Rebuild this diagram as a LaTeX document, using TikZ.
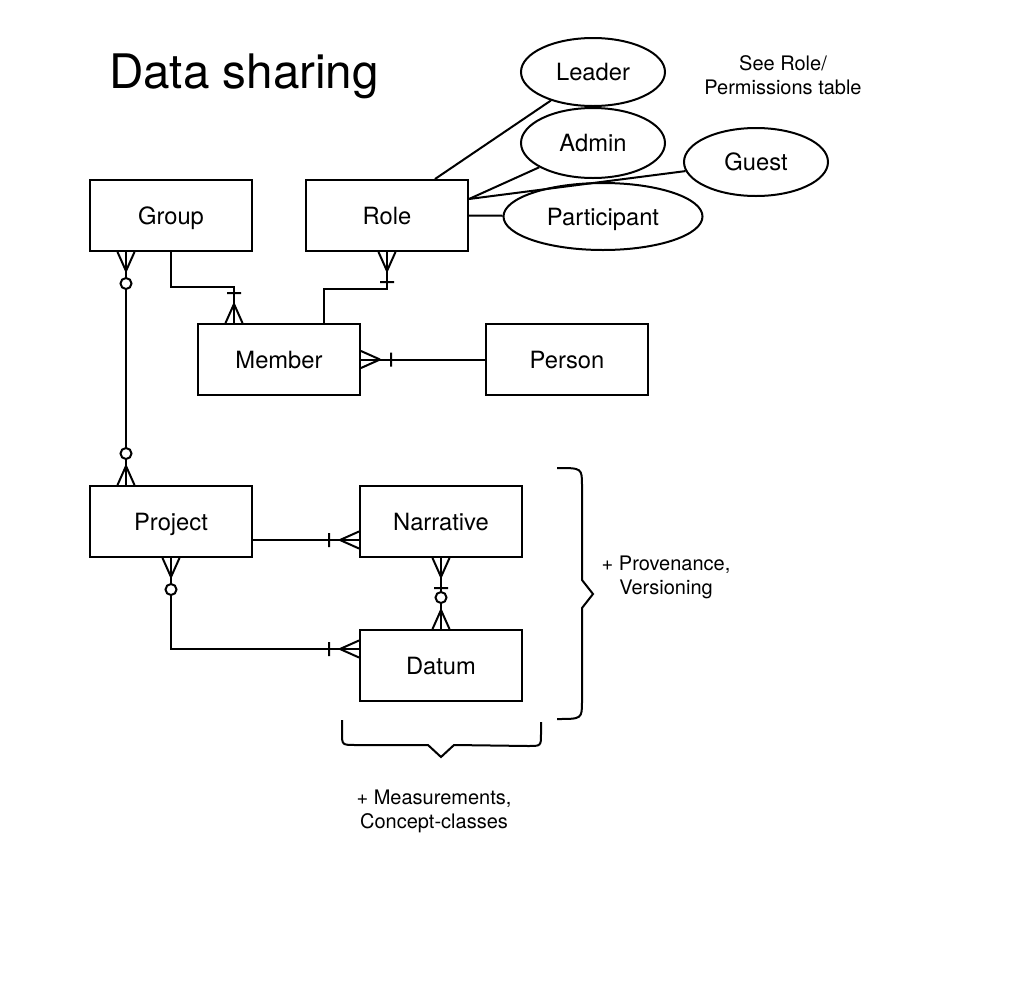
\documentclass[tikz,border=0pt]{standalone}
\usepackage{fontspec}
\setmainfont{TeX Gyre Heros}
\usetikzlibrary{shapes.geometric,calc,decorations.markings}
\begin{document}
\begin{tikzpicture}[x=0.75pt,y=-0.75pt,line width=1.5pt,
  entity/.style={draw,rectangle,minimum width=121.5pt,minimum height=53.25pt,inner sep=0pt,text height=12.8pt,text depth=0pt,font=\fontsize{17.8}{21}\selectfont},
  attr/.style={draw,ellipse,inner sep=0pt,minimum width=108pt,minimum height=51pt,text height=12.8pt,text depth=0pt,font=\fontsize{17.8}{21}\selectfont},
  note/.style={align=center,font=\fontsize{15}{18}\selectfont},
  onemany end/.style={postaction={decorate,decoration={markings,
    mark=at position 1 with {\draw (-19,0) -- (0,8.5) (-19,0) -- (0,-8.5) (-30,7) -- (-30,-7);}}}},
  zeromany end/.style={postaction={decorate,decoration={markings,
    mark=at position 1 with {\draw (-19,0) -- (0,8.5) (-19,0) -- (0,-8.5); \draw[fill=white] (-31.5,0) circle[radius=5.5];}}}},
  onemany start/.style={postaction={decorate,decoration={markings,
    mark=at position 0 with {\draw (19,0) -- (0,8.5) (19,0) -- (0,-8.5) (30,7) -- (30,-7);}}}},
  zeromany start/.style={postaction={decorate,decoration={markings,
    mark=at position 0 with {\draw (19,0) -- (0,8.5) (19,0) -- (0,-8.5); \draw[fill=white] (31.5,0) circle[radius=5.5];}}}},
  brace/.style={line width=1.5pt}
]
\useasboundingbox (0,0) rectangle (1026,986);

% title and notes
\node[anchor=base west,inner sep=0pt,font=\fontsize{35.7}{40}\selectfont] (title) at (108,88) {Data sharing};
\node[note] (seerole) at (783,75) {See Role/\\Permissions table};
\node[note] (prov) at (666,577) {+ Provenance,\\Versioning};
\node[note] (meas) at (434,811) {+ Measurements,\\Concept-classes};

% entities
\node[entity] (Group) at (171,215.5) {Group};
\node[entity] (Role) at (387,215.5) {Role};
\node[entity] (Member) at (279,359.5) {Member};
\node[entity] (Person) at (567,359.5) {Person};
\node[entity] (Project) at (171,521.5) {Project};
\node[entity] (Narrative) at (441,521.5) {Narrative};
\node[entity] (Datum) at (441,665.5) {Datum};

% role attributes
\node[attr] (Leader) at (593,72) {Leader};
\node[attr,minimum height=52.5pt] (Admin) at (593,143) {Admin};
\node[attr] (Guest) at (756,162) {Guest};
\node[attr,minimum width=149.25pt,minimum height=50.25pt] (Participant) at (603,216.5) {Participant};

\draw ($(Role.north)+(48,0)$) -- (Leader);
\draw ($(Role.east)+(0,-16.5)$) -- (Admin);
\draw ($(Role.east)+(0,-16.5)$) -- (Guest);
\draw (Role.east) -- (Participant);

% relationships
\draw[onemany end] (Group.south) |- ($(Member.north)+(-45,-36)$) -- ($(Member.north)+(-45,0)$);
\draw[onemany end] ($(Member.north)+(45,0)$) |- ($(Role.south)+(0,37)$) -- (Role.south);
\draw[zeromany start,zeromany end] ($(Group.south)+(-45,0)$) -- ($(Project.north)+(-45,0)$);
\draw[onemany end] (Person.west) -- (Member.east);
\draw[onemany end] ($(Project.east)+(0,18.5)$) -- ($(Narrative.west)+(0,18.5)$);
\draw[zeromany start,onemany end] (Project.south) |- ($(Datum.west)+(0,-16.5)$);
\draw[onemany start,zeromany end] (Narrative.south) -- (Datum.north);

% braces
\draw[brace] (557,468) .. controls (582,468) .. (582,486) -- (582,580) -- (593,594) -- (582,608) -- (582,701) .. controls (582,719) .. (557,719);
\draw[brace] (342,720) -- (342,733) .. controls (342,745) .. (356,745) -- (428,745) -- (441,757) -- (454,745) -- (528,746) .. controls (541,746) .. (541,734) -- (541,722);
\end{tikzpicture}
\end{document}
